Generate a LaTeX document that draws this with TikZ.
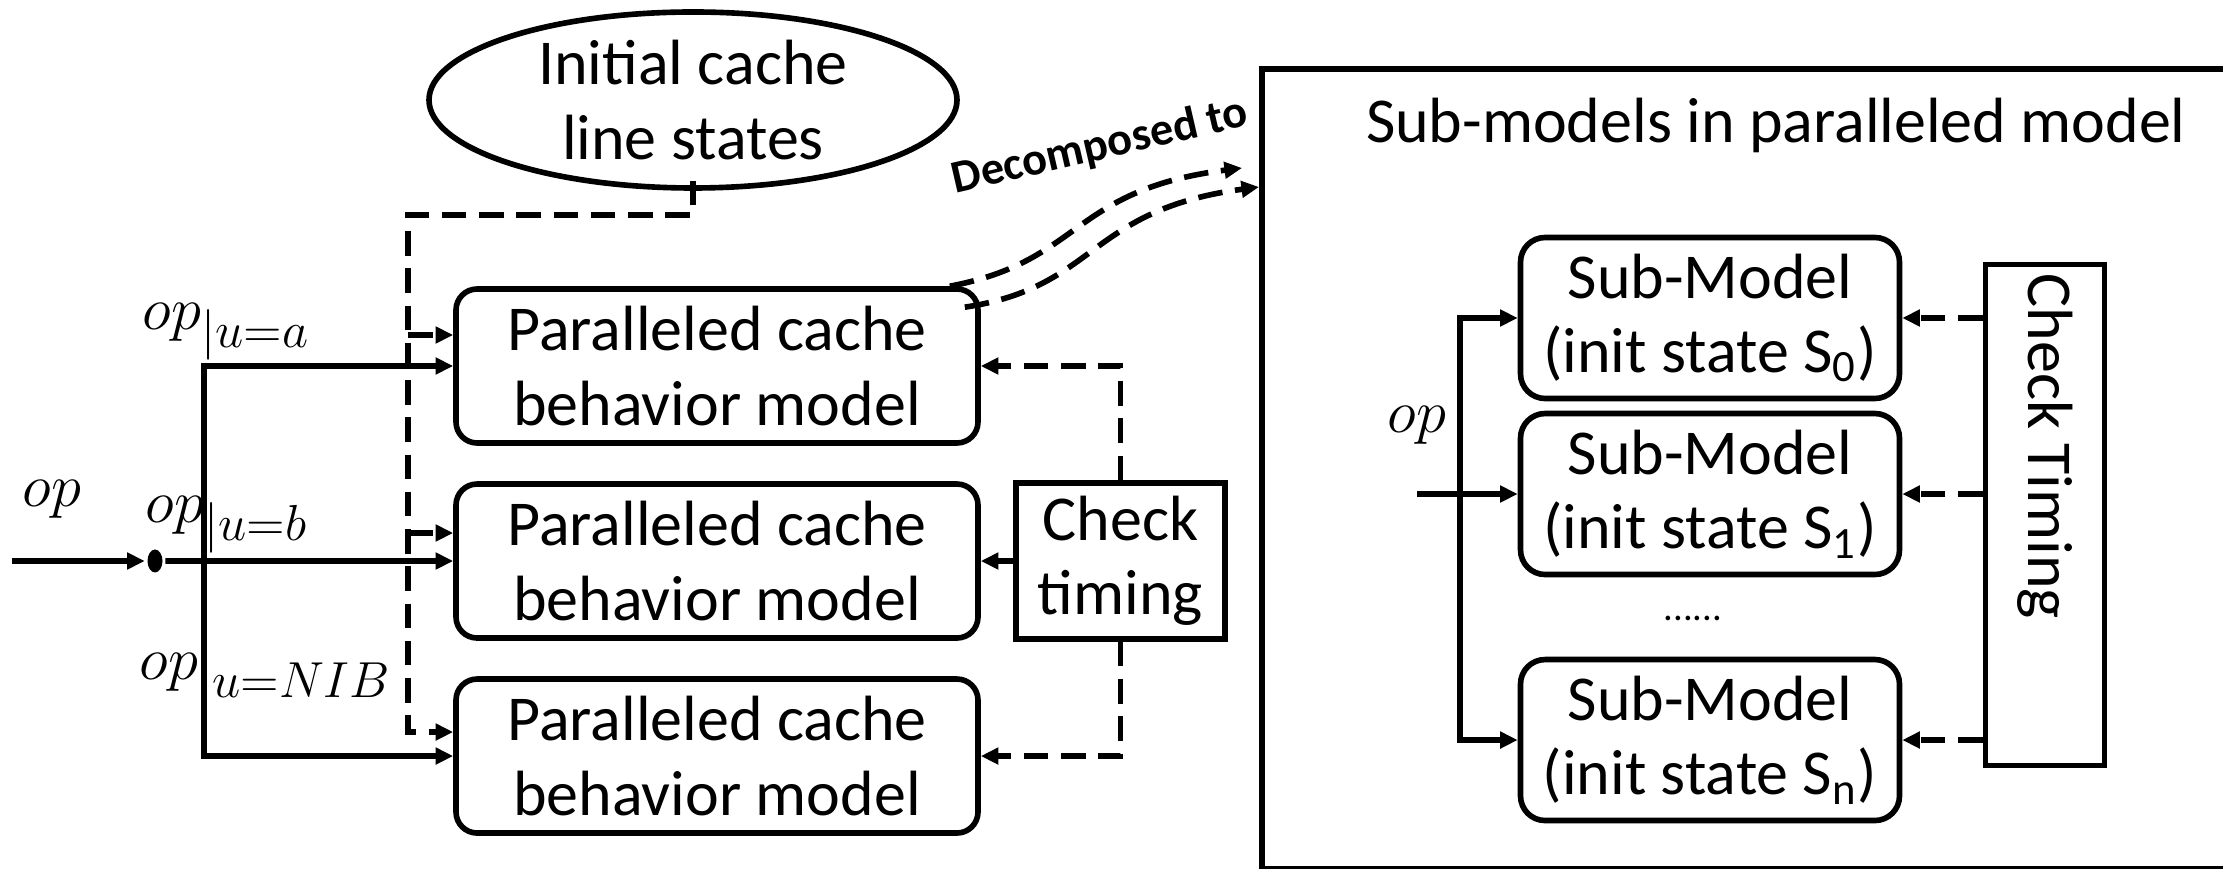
\documentclass[tikz,border=0pt]{standalone}
\usepackage{fontspec}
\setmainfont{Carlito}
\DeclareMathSizes{18}{18}{14}{11}
\usepackage{tikz}
\usetikzlibrary{arrows.meta,shapes.geometric,positioning}

\begin{document}
\begin{tikzpicture}[x=0.1mm, y=0.1mm, line width=1.6pt, >={Triangle[length=5pt,width=4.6pt]},
		every node/.style={font=\fontsize{18.2}{21.2}\selectfont},
		model/.style={draw, rounded corners=6pt, minimum width=52.2mm, minimum height=15.4mm, align=center, inner sep=0pt},
		submodel/.style={draw, rounded corners=7pt, minimum width=37.9mm, minimum height=16.1mm, align=center, inner sep=0pt},
		dashline/.style={dash pattern=on 7pt off 3.6pt},
		oplabel/.style={anchor=base west, inner sep=0pt, font=\fontsize{18}{22}\selectfont}]
				\useasboundingbox (0,0) rectangle (2223,-869);
				\clip (0,0) rectangle (2223,-869);
				
				% parallel models
				\node [ellipse,draw, minimum width=52.8mm, minimum height=17.6mm, inner sep=0pt, align=center] (init) at (693,-100) {Initial cache\\line states};
				\node [model] (pcm1) at (717,-366) {Paralleled cache\\behavior model};
				\node [model, below=3.54mm of pcm1] (pcm2) {Paralleled cache\\behavior model};
				\node [model, below=3.54mm of pcm2] (pcm3) {Paralleled cache\\behavior model};
				\node [draw, minimum width=20.9mm, minimum height=15.6mm, inner sep=0pt, align=center, right=3.24mm of pcm2] (chk) {Check\\timing};
				
				\node [fill, ellipse, minimum width=1.5mm, minimum height=2.3mm, inner sep=0pt] (fork) at (155,-561) {};
				\coordinate (opin) at (12,-561);
				\coordinate (bus) at (204,-561);
				\coordinate (feed) at (408,-215);
				\coordinate (in1) at ([yshift=3.1mm]pcm1.west);
				\coordinate (in2) at ([yshift=2.8mm]pcm2.west);
				\coordinate (in3) at ([yshift=2.4mm]pcm3.west);
				
				\draw [->] (opin) -- (fork);
				\draw [->] (fork) -- (pcm2.west);
				\draw [<->] (pcm1.west) -| (bus) |- (pcm3.west);
				\draw [dashline, ->] ([yshift=1mm]init.south) |- (feed) |- (in3);
				\draw [dashline, ->] (feed |- in1) -- (in1);
				\draw [dashline, ->] (feed |- in2) -- (in2);
				
				\draw [->] (chk) -- (pcm2);
				\draw [dashline, ->] (chk.north) |- (pcm1.east);
				\draw [dashline, ->] (chk.south) |- (pcm3.east);
				
				\node [oplabel] (op) at (20,-507) {$op$};
				\node [oplabel] (opa) at (140,-330) {$op_{|u=a}$};
				\node [oplabel] (opb) at (143,-523) {$op_{|u=b}$};
				\node [oplabel] (opn) at (137,-680) {$op_{|u=NIB}$};
				
				% decomposition
				\node [draw, minimum width=100mm, minimum height=80mm, inner sep=0pt, anchor=north west] (pmodel) at (1259,-66) {};
				\coordinate (decA) at (1242,-168);
				\coordinate (decB) at (1259,-187);
				\draw [dashline, ->] ([xshift=-3.1mm]pcm1.north east) .. controls +(133,25) and +(-172,-22) .. (decA);
				\draw [dashline, ->] ([xshift=-1.6mm,yshift=-2.1mm]pcm1.north east) .. controls +(133,20) and +(-172,-23) .. (decB);
				\node [rotate=13, font=\fontsize{13.2}{15}\selectfont\bfseries] (decomp) at (1100,-147) {Decomposed to};
				
				% sub-models
				\node (title) at (1776,-125) {Sub-models in paralleled model};
				\node [submodel] (sm0) at (1710,-318) {Sub-Model\\(init state S\textsubscript{0})};
				\node [submodel, below=0.94mm of sm0] (sm1) {Sub-Model\\(init state S\textsubscript{1})};
				\node [submodel, below=7.94mm of sm1] (smn) {Sub-Model\\(init state S\textsubscript{n})};
				\node [font=\fontsize{11}{13}\selectfont] (dots) at (1693,-618) {......};
				\node [draw, minimum width=11.9mm, minimum height=50.1mm, inner sep=0pt] (chkr) at (2045,-515) {};
				\node [rotate=-90, anchor=west, inner sep=0pt] (chkrtxt) at ([yshift=-0.9mm]chkr.north) {Check Timing};
				
				\coordinate (opin2) at (1417,-494);
				\coordinate (rbus) at (1460,-494);
				\draw [->] (opin2) -- (sm1.west);
				\draw [<->] (sm0.west) -| (rbus) |- (smn.west);
				\foreach \s in {sm0,sm1,smn}
					\draw [dashline, ->] (chkr.west |- \s) -- (\s.east);
				\node [oplabel] (op2) at (1385,-433) {$op$};
			\end{tikzpicture}
\end{document}
